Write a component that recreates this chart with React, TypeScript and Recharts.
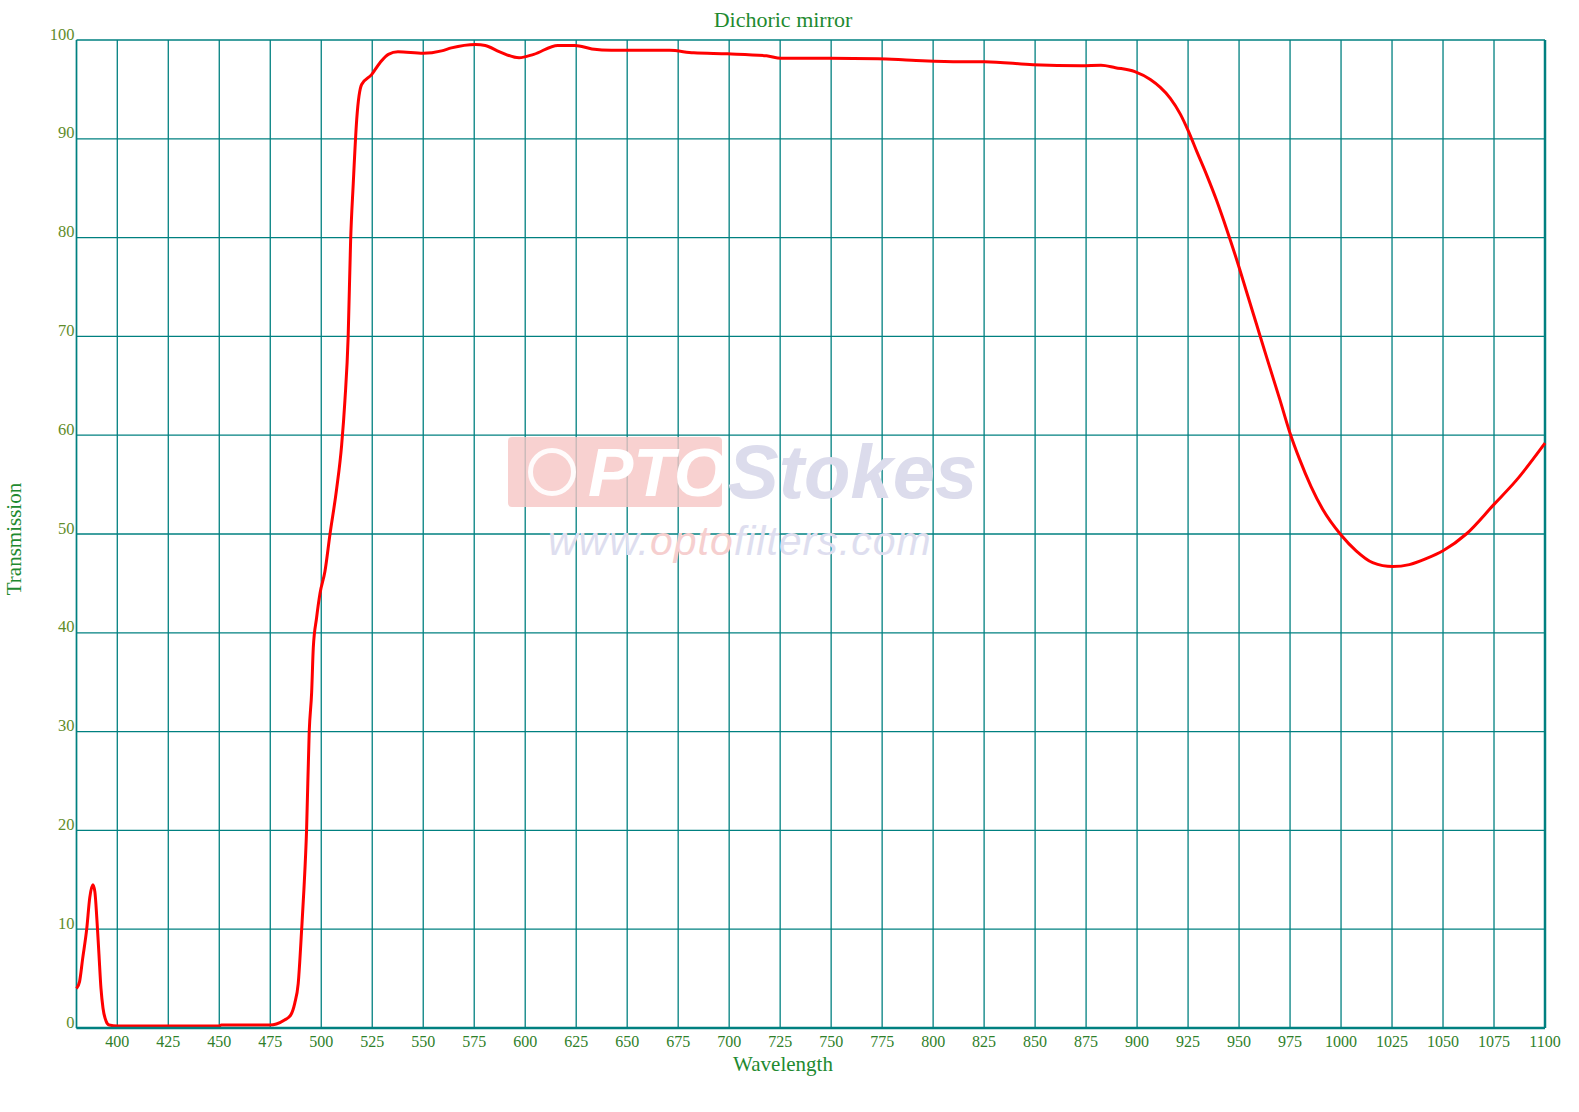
import { LineChart, Line, XAxis, YAxis, CartesianGrid, ReferenceLine } from 'recharts'

// page has an 8px body margin by default, the reference starts at 0
if (typeof document !== 'undefined') document.body.style.margin = '0'

const wavelengths = [
  380, 381.5, 383, 385, 386.5, 388, 389, 390, 391, 392, 393, 394.5, 396, 400, 425, 450, 451, 475, 478, 482,
  485, 487, 488.7, 490.4, 491.5, 492.8, 494.1, 495.3, 496.1, 497.7, 499.4, 501.8, 504.3, 507.5, 510, 511.6,
  513.2, 514.4, 515.7, 517.4, 519.8, 524.7, 528.8, 532.9, 537.6, 550, 559, 563.8, 575.7, 580.4, 587.5, 597,
  604.2, 616, 624.4, 632.7, 642.2, 670.7, 682.6, 699.2, 718.3, 725.4, 749.1, 772.9, 789.5, 813.3, 825.2, 849,
  872.8, 882.3, 889.4, 898.9, 906.5, 911.4, 916.3, 921.2, 925.1, 929.3, 934.2, 939.1, 944, 950, 953.7, 958.6,
  963.5, 970, 975, 979.6, 985.3, 991, 1000, 1007.4, 1015.5, 1025.3, 1033.5, 1041.7, 1050, 1061.4, 1075,
  1085.8, 1100,
]

const transmission = [
  4.0, 4.7, 7, 10, 13.2, 14.5, 13.8, 11, 7.5, 4, 2, 0.7, 0.3, 0.2, 0.2, 0.2, 0.3, 0.3, 0.4, 0.8,
  1.3, 2.5, 4.5, 10, 14, 20, 30, 34, 38.5, 41.5, 44, 46.2, 50, 54.5, 59, 63.5,
  70, 79.7, 85.5, 92, 95.5, 96.5, 97.7, 98.55, 98.8, 98.65, 98.9, 99.2, 99.55, 99.45, 98.8, 98.2,
  98.55, 99.45, 99.45, 99.1, 98.95, 98.95, 98.7, 98.6, 98.4, 98.15, 98.15, 98.1, 97.95, 97.8, 97.8, 97.5,
  97.4, 97.45, 97.2, 96.8, 96.0, 95.2, 94.1, 92.5, 90.8, 88.7, 86.3, 83.7, 80.8, 77, 74.5, 71.2,
  67.9, 63.6, 60.2, 57.6, 54.8, 52.5, 49.9, 48.3, 47.1, 46.7, 46.9, 47.5, 48.3, 50, 53,
  55.4, 59.2,
]

const xTicks = [400, 425, 450, 475, 500, 525, 550, 575, 600, 625, 650, 675, 700, 725, 750, 775, 800, 825, 850,
  875, 900, 925, 950, 975, 1000, 1025, 1050, 1075, 1100]
const yTicks = [0, 10, 20, 30, 40, 50, 60, 70, 80, 90, 100]

const data = wavelengths.map((w, i) => ({ w, t: transmission[i] }))

const GRID = '#008080'
const serif = '"Liberation Serif", "DejaVu Serif", serif'

const XTick = ({ x, y, payload }: any) => (
  <text x={x} y={y + 5} textAnchor="middle" dominantBaseline="central"
    fill="#2f7f2a" fontSize={16} fontFamily={serif}>{payload.value}</text>
)

const YTick = ({ x, y, payload }: any) => (
  <text x={x + 6} y={y - 6} textAnchor="end" dominantBaseline="central"
    fill="#5f8c2a" fontSize={16.5} fontFamily={serif}>{payload.value}</text>
)

export default function App() {
  return (
    <div style={{ position: 'relative', width: 1579, height: 1112, background: '#fff', fontFamily: serif }}>
      <LineChart width={1579} height={1112} data={data} margin={{ top: 40, right: 34, bottom: 0, left: 0 }}>
        <CartesianGrid stroke={GRID} strokeWidth={1.3} />
        <XAxis
          dataKey="w" type="number" domain={[380, 1100]} ticks={xTicks} interval={0}
          height={84} tickLine={false} axisLine={{ stroke: GRID, strokeWidth: 2.5 }}
          tick={<XTick />}
        />
        <YAxis
          type="number" domain={[0, 100]} ticks={yTicks} interval={0} width={76.5}
          tickLine={false} axisLine={false} tick={<YTick />}
        />
        <ReferenceLine x={380} stroke={GRID} strokeWidth={1.5} />
        <ReferenceLine x={1100} stroke={GRID} strokeWidth={2.5} />
        <Line
          type="monotone" dataKey="t" stroke="#ff0000" strokeWidth={3}
          dot={false} isAnimationActive={false}
        />
      </LineChart>

      {/* watermark */}
      <div style={{ position: 'absolute', left: 508, top: 437, width: 214, height: 70, background: '#f6c6c4', opacity: 0.8, borderRadius: 4 }} />
      <div style={{ position: 'absolute', left: 528, top: 448, width: 48, height: 48, borderRadius: 24, border: '5px solid #fff', boxSizing: 'border-box', opacity: 0.9 }} />
      <div style={{ position: 'absolute', left: 588, top: 428, fontSize: 68, fontWeight: 'bold', fontStyle: 'italic', color: '#ffffff', fontFamily: '"Liberation Sans", sans-serif', lineHeight: '88px' }}>PTO</div>
      <div style={{ position: 'absolute', left: 728, top: 428, fontSize: 76, fontWeight: 'bold', fontStyle: 'italic', color: '#dcdcec', fontFamily: '"Liberation Sans", sans-serif', lineHeight: '88px' }}>Stokes</div>
      <div style={{ position: 'absolute', left: 548, top: 516, fontSize: 41, fontStyle: 'italic', color: '#dedeef', fontFamily: '"Liberation Sans", sans-serif', lineHeight: '50px', letterSpacing: 1 }}>
        www.<span style={{ color: '#f6cfcf' }}>opto</span>filters.com
      </div>

      <div style={{ position: 'absolute', left: 783, top: 20, transform: 'translate(-50%, -50%)', color: '#1e8a30', fontSize: 22, whiteSpace: 'nowrap' }}>Dichoric mirror</div>
      <div style={{ position: 'absolute', left: 783, top: 1064, transform: 'translate(-50%, -50%)', color: '#1e8a30', fontSize: 21, whiteSpace: 'nowrap' }}>Wavelength</div>
      <div style={{ position: 'absolute', left: 14, top: 539, transform: 'translate(-50%, -50%) rotate(-90deg)', color: '#1e8a30', fontSize: 21, whiteSpace: 'nowrap' }}>Transmission</div>
    </div>
  )
}
